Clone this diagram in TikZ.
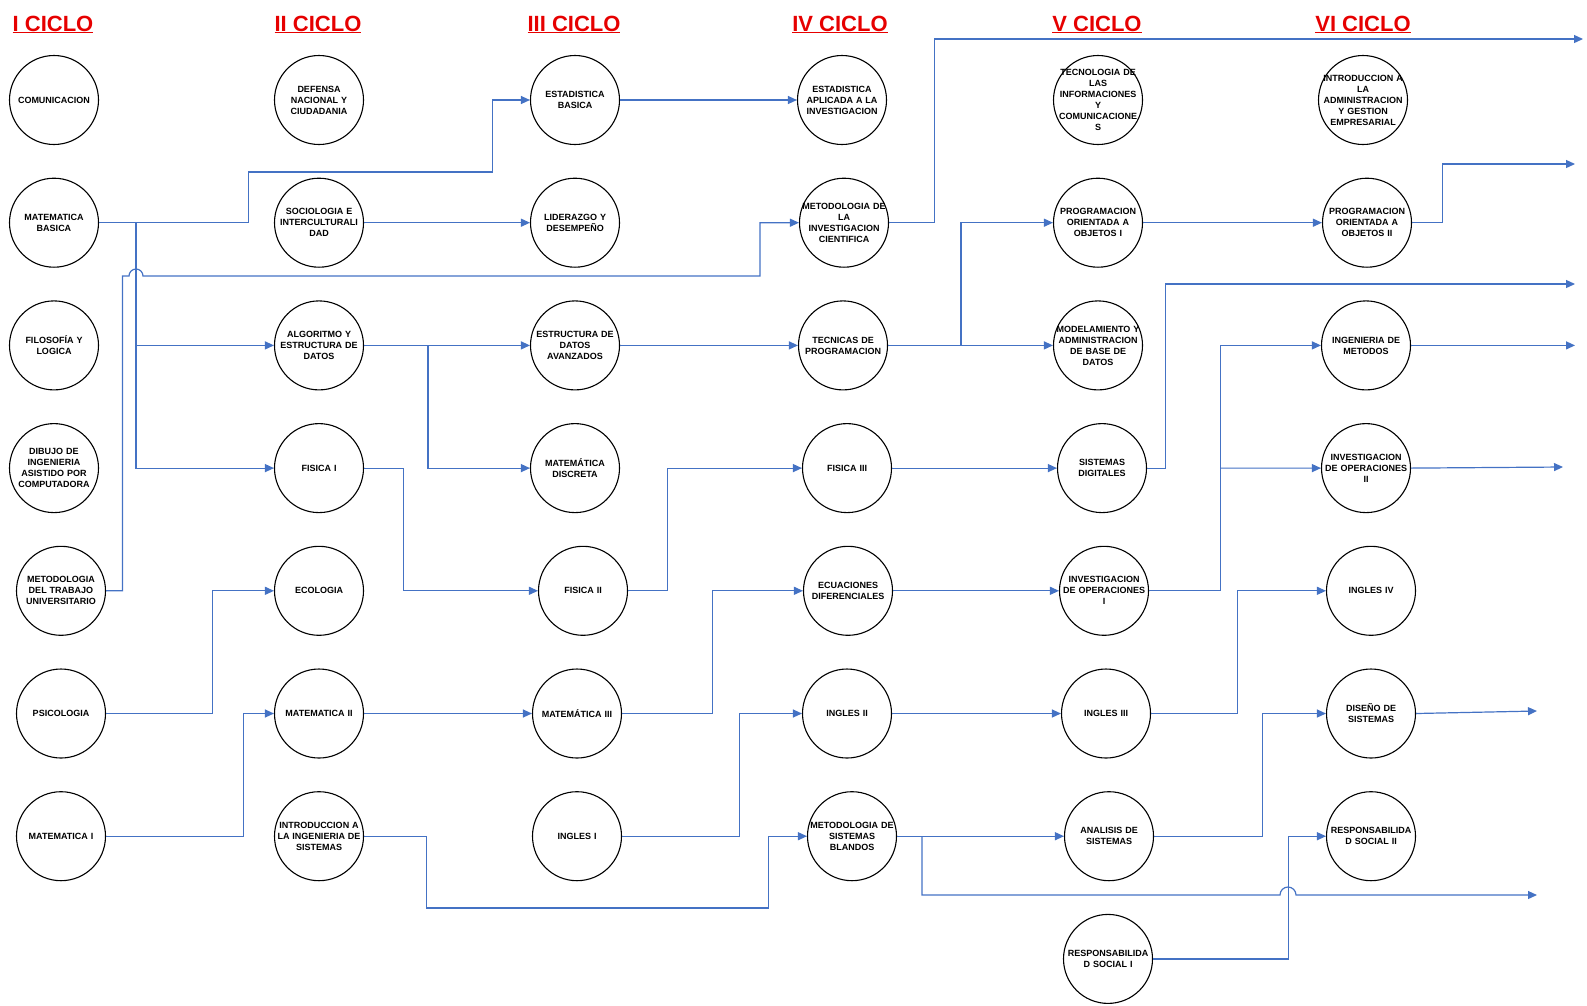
\documentclass[tikz,border=0pt]{standalone}
\usepackage{fontspec}
\setmainfont{Liberation Sans}
\usepackage{tikz}
\usetikzlibrary{arrows.meta}
\usetikzlibrary{positioning}
\definecolor{azul}{RGB}{68,114,196}
\definecolor{rojo}{RGB}{230,0,0}

\begin{document}
\begin{tikzpicture}[x=1pt, y=1pt, node distance=122.7pt,
  curso/.style={circle, draw=black, line width=1.1pt, minimum size=89pt, inner sep=-14pt, text width=84pt, align=center, font=\fontsize{9}{11}\selectfont\bfseries},
  ciclo/.style={text=rojo, anchor=base, font=\fontsize{22}{26}\selectfont\bfseries},
  flecha/.style={color=azul, line width=1.2pt, -{Triangle[length=9pt, width=8pt]}},
  linea/.style={color=azul, line width=1.2pt}]

\useasboundingbox (0,0) rectangle (1587,-1005);

% Ciclos
\node [ciclo] at (53,-31) (c1) {\underline{I CICLO}};
\node [ciclo] at (318,-31) (c2) {\underline{II CICLO}};
\node [ciclo] at (574,-31) (c3) {\underline{III CICLO}};
\node [ciclo] at (840,-31) (c4) {\underline{IV CICLO}};
\node [ciclo] at (1097,-31) (c5) {\underline{V CICLO}};
\node [ciclo] at (1363,-31) (c6) {\underline{VI CICLO}};

% Nodos
\node [curso] at (54,-100) (n11) {COMUNICACION};
\node [curso, below of=n11] (n12) {MATEMATICA\\BASICA};
\node [curso, below of=n12] (n13) {FILOSOFÍA Y\\LOGICA};
\node [curso, below of=n13] (n14) {DIBUJO DE\\INGENIERIA\\ASISTIDO POR\\COMPUTADORA};
\node [curso, below of=n14, xshift=7pt] (n15) {METODOLOGIA\\DEL TRABAJO\\UNIVERSITARIO};
\node [curso, below of=n15] (n16) {PSICOLOGIA};
\node [curso, below of=n16] (n17) {MATEMATICA I};

\node [curso] at (319,-100) (n21) {DEFENSA\\NACIONAL Y\\CIUDADANIA};
\node [curso, below of=n21] (n22) {SOCIOLOGIA E\\INTERCULTURALI\\DAD};
\node [curso, below of=n22] (n23) {ALGORITMO Y\\ESTRUCTURA DE\\DATOS};
\node [curso, below of=n23] (n24) {FISICA I};
\node [curso, below of=n24] (n25) {ECOLOGIA};
\node [curso, below of=n25] (n26) {MATEMATICA II};
\node [curso, below of=n26] (n27) {INTRODUCCION A\\LA INGENIERIA DE\\SISTEMAS};

\node [curso] at (575,-100) (n31) {ESTADISTICA\\BASICA};
\node [curso, below of=n31] (n32) {LIDERAZGO Y\\DESEMPEÑO};
\node [curso, below of=n32] (n33) {ESTRUCTURA DE\\DATOS\\AVANZADOS};
\node [curso, below of=n33] (n34) {MATEMÁTICA\\DISCRETA};
\node [curso, below of=n34, xshift=8pt] (n35) {FISICA II};
\node [curso, below of=n35, xshift=-6pt] (n36) {MATEMÁTICA III};
\node [curso, below of=n36] (n37) {INGLES I};

\node [curso] at (842,-100) (n41) {ESTADISTICA\\APLICADA A LA\\INVESTIGACION};
\node [curso, below of=n41, xshift=2pt] (n42) {METODOLOGIA DE\\LA\\INVESTIGACION\\CIENTIFICA};
\node [curso, below of=n42, xshift=-1pt] (n43) {TECNICAS DE\\PROGRAMACION};
\node [curso, below of=n43, xshift=4pt] (n44) {FISICA III};
\node [curso, below of=n44, xshift=1pt] (n45) {ECUACIONES\\DIFERENCIALES};
\node [curso, below of=n45, xshift=-1pt] (n46) {INGLES II};
\node [curso, below of=n46, xshift=5pt] (n47) {METODOLOGIA DE\\SISTEMAS\\BLANDOS};

\node [curso] at (1098,-100) (n51) {TECNOLOGIA DE\\LAS\\INFORMACIONES\\Y\\COMUNICACIONE\\S};
\node [curso, below of=n51] (n52) {PROGRAMACION\\ORIENTADA A\\OBJETOS I};
\node [curso, below of=n52] (n53) {MODELAMIENTO Y\\ADMINISTRACION\\DE BASE DE\\DATOS};
\node [curso, below of=n53, xshift=4pt] (n54) {SISTEMAS\\DIGITALES};
\node [curso, below of=n54, xshift=2pt] (n55) {INVESTIGACION\\DE OPERACIONES\\I};
\node [curso, below of=n55, xshift=2pt] (n56) {INGLES III};
\node [curso, below of=n56, xshift=3pt] (n57) {ANALISIS DE\\SISTEMAS};
\node [curso, below of=n57, xshift=-1pt] (n58) {RESPONSABILIDA\\D SOCIAL I};

\node [curso] at (1363,-100) (n61) {INTRODUCCION A\\LA\\ADMINISTRACION\\Y GESTION\\EMPRESARIAL};
\node [curso, below of=n61, xshift=4pt] (n62) {PROGRAMACION\\ORIENTADA A\\OBJETOS II};
\node [curso, below of=n62, xshift=-1pt] (n63) {INGENIERIA DE\\METODOS};
\node [curso, below of=n63] (n64) {INVESTIGACION\\DE OPERACIONES\\II};
\node [curso, below of=n64, xshift=5pt] (n65) {INGLES IV};
\node [curso, below of=n65] (n66) {DISEÑO DE\\SISTEMAS};
\node [curso, below of=n66] (n67) {RESPONSABILIDA\\D SOCIAL II};

% Puntos
\coordinate (b1) at (136,-222.7);
\coordinate (b2) at (428,-345.4);
\coordinate (b3) at (961,-345.4);
\coordinate (b4) at (922,-836.2);
\coordinate (b5) at (1220,-468.1);
\coordinate (s1) at (129,-276);
\coordinate (s2) at (1280,-895);
\coordinate (f1) at (1583,-39);
\coordinate (f2) at (1537,-895);
\coordinate (f3) at (1575,-164);
\coordinate (f4) at (1575,-284);
\coordinate (f5) at (1575,-345.4);
\coordinate (f6) at (1563,-467);
\coordinate (f7) at (1537,-711);

% Conexiones
\draw[flecha] (n12.east) -- ++(149.5,0) -- ++(0,50.7) -- ++(244,0) |- (n31.west);
\draw[flecha] (b1) |- (n23.west);
\draw[flecha] (b1) |- (n24.west);
\draw[flecha] (n15.east) -- ++(16.5,0) |- (s1) arc[start angle=180, end angle=0, radius=7pt] -- ++(617,0) |- (n42.west);

\draw[flecha] (n22.east) -- (n32.west);
\draw[flecha] (n23.east) -- (n33.west);
\draw[flecha] (b2) |- (n34.west);
\draw[flecha] (n24.east) -- ++(39.5,0) |- (n35.west);
\draw[flecha] (n16.east) -- ++(106.5,0) |- (n25.west);
\draw[flecha] (n17.east) -- ++(137.5,0) |- (n26.west);
\draw[flecha] (n26.east) -- (n36.west);
\draw[flecha] (n27.east) -- ++(62.5,0) -- ++(0,-71.8) -- ++(342,0) |- (n47.west);

\draw[flecha] (n31.east) -- (n41.west);
\draw[flecha] (n33.east) -- (n43.west);
\draw[flecha] (n35.east) -- ++(39.5,0) |- (n44.west);
\draw[flecha] (n36.east) -- ++(90.5,0) |- (n45.west);
\draw[flecha] (n37.east) -- ++(117.5,0) |- (n46.west);

\draw[flecha] (n42.east) -- ++(45.5,0) |- (f1);
\draw[flecha] (n43.east) -- (n53.west);
\draw[flecha] (b3) |- (n52.west);
\draw[flecha] (n44.east) -- (n54.west);
\draw[flecha] (n45.east) -- (n55.west);
\draw[flecha] (n46.east) -- (n56.west);
\draw[flecha] (n47.east) -- (n57.west);
\draw[flecha] (b4) |- (s2) arc[start angle=180, end angle=0, radius=8pt] -- (f2);

\draw[flecha] (n52.east) -- (n62.west);
\draw[flecha] (n54.east) -- ++(18.5,0) |- (f4);
\draw[flecha] (n55.east) -- ++(71.5,0) |- (n63.west);
\draw[flecha] (b5) -- (n64.west);
\draw[flecha] (n56.east) -- ++(86.5,0) |- (n65.west);
\draw[flecha] (n57.east) -- ++(108.5,0) |- (n66.west);
\draw[flecha] (n58.east) -- ++(135.5,0) |- (n67.west);

\draw[flecha] (n62.east) -- ++(30.5,0) |- (f3);
\draw[flecha] (n63.east) -- (f5);
\draw[flecha] (n64.east) -- (f6);
\draw[flecha] (n66.east) -- (f7);

\end{tikzpicture}
\end{document}
